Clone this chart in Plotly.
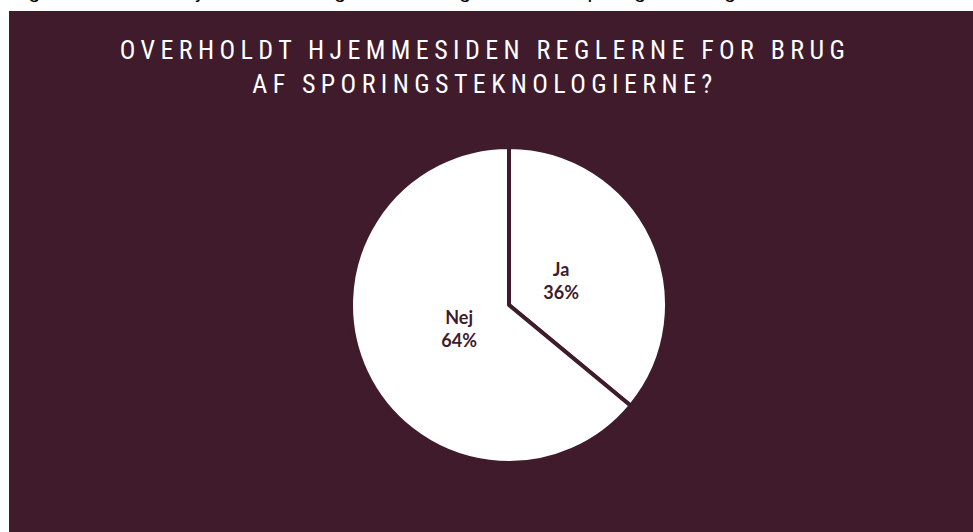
import plotly.graph_objects as go

labels = ["Ja", "Nej"]
values = [36, 64]
title_lines = ["OVERHOLDT HJEMMESIDEN REGLERNE FOR BRUG", "AF SPORINGSTEKNOLOGIERNE?"]
caption = "Figur 6: Overholdt hjemmesiden reglerne for brug af cookies/sporingsteknologier"

W, H = 973, 532
DARK = "#3F1B2B"
CX, CY, R, R_TXT = 509, 305, 158, 110


def dom(r):
    return dict(x=[(CX - r) / W, (CX + r) / W], y=[1 - (CY + r) / H, 1 - (CY - r) / H])


fig = go.Figure()
fig.add_trace(go.Pie(
    labels=labels,
    values=values,
    sort=False,
    direction="clockwise",
    rotation=0,
    marker=dict(colors=["#FFFFFF", "#FFFFFF"], line=dict(color=DARK, width=4)),
    textinfo="none",
    hoverinfo="skip",
    showlegend=False,
    domain=dom(R),
))
# label layer: same data, drawn on a smaller transparent pie so labels sit nearer the centre
fig.add_trace(go.Pie(
    labels=labels,
    values=values,
    sort=False,
    direction="clockwise",
    rotation=0,
    marker=dict(colors=["rgba(0,0,0,0)", "rgba(0,0,0,0)"], line=dict(width=0)),
    texttemplate="%{label}<br>%{percent:.0%}",
    textposition="inside",
    insidetextorientation="horizontal",
    textfont=dict(family="Lato", size=18, color=DARK, weight="bold"),
    hoverinfo="skip",
    showlegend=False,
    domain=dom(R_TXT),
))

fig.add_shape(type="rect", xref="paper", yref="paper",
              x0=9 / W, x1=1.0, y0=0.0, y1=1 - 11 / H,
              fillcolor=DARK, line=dict(width=0), layer="below")

fig.add_annotation(text="<br>".join(title_lines), xref="paper", yref="paper",
                   x=485 / W, y=1 - 33 / H, xanchor="center", yanchor="top",
                   showarrow=False, align="center",
                   font=dict(family="Liberation Sans Narrow, Arial Narrow, Roboto Condensed, sans-serif",
                             size=26, color="white"))

fig.add_annotation(text=caption, xref="paper", yref="paper",
                   x=9 / W, y=1 - 4 / H, xanchor="left", yanchor="bottom",
                   showarrow=False, align="left",
                   font=dict(family="Liberation Sans", size=21, color="black"))

fig.update_layout(
    width=W, height=H,
    margin=dict(l=0, r=0, t=0, b=0),
    paper_bgcolor="white",
    plot_bgcolor="white",
)

post = (
    "document.body.style.margin='0';"
    "var ts=document.querySelectorAll('.annotation-text');"
    "if(ts.length){ts[0].style.letterSpacing='5.4px';}"
)
fig.write_html("out.html", post_script=post, config={"displayModeBar": False})
